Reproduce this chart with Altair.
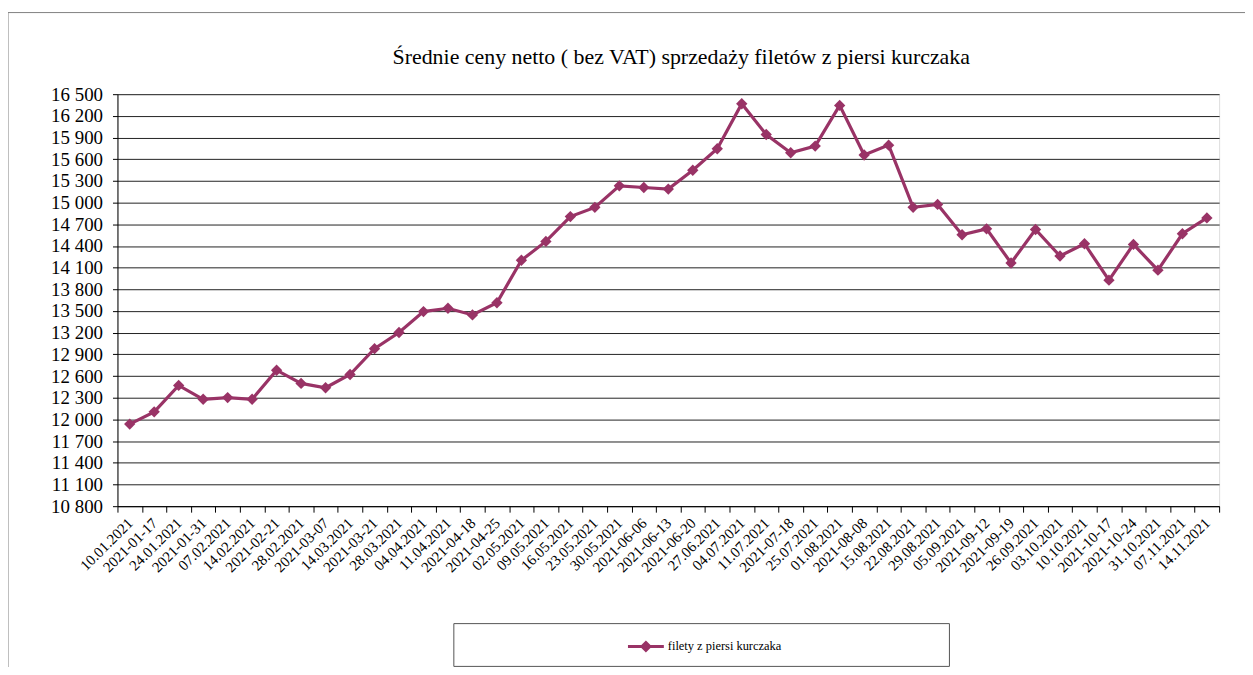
import altair as alt
import pandas as pd

title_text = "Średnie ceny netto ( bez VAT) sprzedaży filetów z piersi kurczaka"
series_name = "filety z piersi kurczaka"

dates = [
    "10.01.2021", "2021-01-17", "24.01.2021", "2021-01-31", "07.02.2021",
    "14.02.2021", "2021-02-21", "28.02.2021", "2021-03-07", "14.03.2021",
    "2021-03-21", "28.03.2021", "04.04.2021", "11.04.2021", "2021-04-18",
    "2021-04-25", "02.05.2021", "09.05.2021", "16.05.2021", "23.05.2021",
    "30.05.2021", "2021-06-06", "2021-06-13", "2021-06-20", "27.06.2021",
    "04.07.2021", "11.07.2021", "2021-07-18", "25.07.2021", "01.08.2021",
    "2021-08-08", "15.08.2021", "22.08.2021", "29.08.2021", "05.09.2021",
    "2021-09-12", "2021-09-19", "26.09.2021", "03.10.2021", "10.10.2021",
    "2021-10-17", "2021-10-24", "31.10.2021", "07.11.2021", "14.11.2021",
]

prices = [
    11936, 12105, 12471, 12279, 12302,
    12279, 12681, 12499, 12439, 12622,
    12979, 13203, 13492, 13538, 13446,
    13615, 14202, 14463, 14806, 14934,
    15232, 15209, 15187, 15448, 15745,
    16368, 15942, 15690, 15782, 16345,
    15658, 15795, 14935, 14975, 14555,
    14637, 14165, 14628, 14261, 14431,
    13927, 14422, 14065, 14569, 14788,
]

y_ticks = [10800, 11100, 11400, 11700, 12000, 12300, 12600, 12900, 13200, 13500,
           13800, 14100, 14400, 14700, 15000, 15300, 15600, 15900, 16200, 16500]

color = "#993366"
font = "Times New Roman"

df = pd.DataFrame({"date": dates, "price": prices, "series": [series_name] * len(dates)})

W, H = 1107, 414

line = alt.Chart(df).mark_line(
    strokeWidth=3.2,
    point=alt.OverlayMarkDef(shape="diamond", size=130, filled=True, color=color),
).encode(
    x=alt.X("date:N", sort=dates, title=None,
            scale=alt.Scale(paddingInner=0, paddingOuter=0),
            axis=alt.Axis(labelAngle=-45, labelFontSize=15, labelFont=font, labelColor="black",
                          tickBand="extent", tickSize=6, tickColor="black",
                          domainColor="black", labelPadding=8, grid=False,
                          labelAlign="right", labelBaseline="middle")),
    y=alt.Y("price:Q", title=None,
            scale=alt.Scale(domain=[10800, 16500], nice=False, zero=False),
            axis=alt.Axis(values=y_ticks, labelExpr="replace(format(datum.value, ','), ',', ' ')",
                          labelFontSize=19, labelFont=font, labelColor="black",
                          tickSize=5, tickColor="black", domainColor="black",
                          labelPadding=10, grid=True, gridColor="#222222", gridWidth=1)),
    color=alt.Color("series:N", scale=alt.Scale(range=[color]),
                    legend=alt.Legend(title=None, orient="none", legendX=511, legendY=535,
                                      symbolType="M-1,0L1,0M0,-0.22L0.22,0L0,0.22L-0.22,0Z",
                                      symbolSize=1300, symbolStrokeWidth=3,
                                      symbolFillColor=color, symbolStrokeColor=color,
                                      labelFont=font, labelFontSize=12.5, labelColor="black",
                                      labelOffset=2, padding=0)),
)

one = alt.Data(values=[{"k": 1}])

frame = alt.Chart(one).mark_rect(fillOpacity=0, stroke="#808080", strokeWidth=1).encode(
    x=alt.value(-110), x2=alt.value(1160), y=alt.value(-82), y2=alt.value(640)
)

legend_box = alt.Chart(one).mark_rect(fillOpacity=0, stroke="#555555", strokeWidth=1).encode(
    x=alt.value(338), x2=alt.value(836), y=alt.value(532), y2=alt.value(575)
)

chart = alt.layer(frame, legend_box, line).properties(
    width=W, height=H,
    title=alt.Title(title_text, fontSize=22, font=font, fontWeight="normal", color="black",
                    offset=0, dy=57, dx=13, frame="group"),
    autosize=alt.AutoSizeParams(type="none"),
    padding={"left": 110, "top": 85, "right": 26, "bottom": 160},
).configure_view(stroke="#888888", strokeWidth=1).configure(background="white")

chart.save("out.html", embed_options={"renderer": "svg", "actions": False})
